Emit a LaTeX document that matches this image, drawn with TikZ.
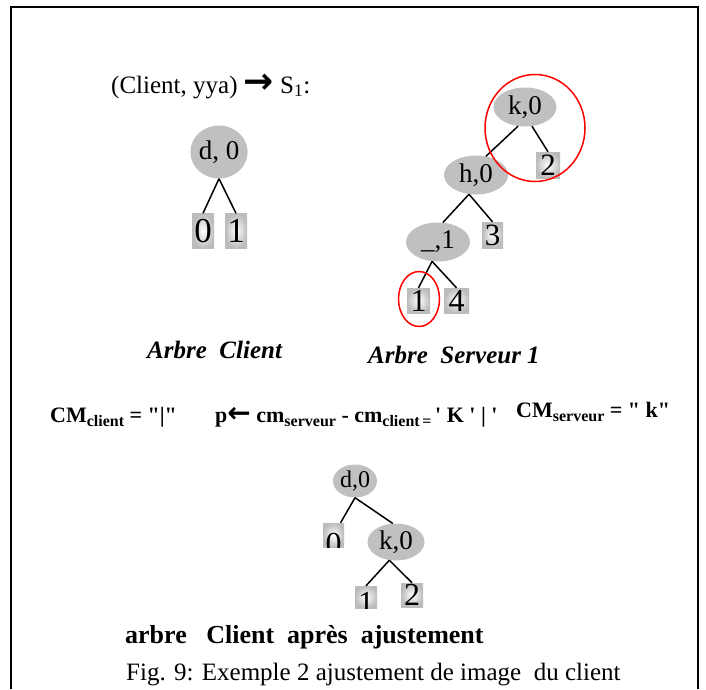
\documentclass[tikz,border=0pt]{standalone}
\usepackage{fontspec}
\setmainfont{Liberation Serif}
\newfontfamily\arrowfont{DejaVu Sans}
\usetikzlibrary{shapes.geometric}
\definecolor{nodegray}{RGB}{192,192,192}
\definecolor{leafgray}{RGB}{188,188,188}
\newcommand\lowtext[1]{\raisebox{-0.22em}{\fontsize{16}{16}\selectfont #1}}
\newcommand\thickarrow[2]{{\arrowfont\bfseries\fontsize{#1}{#1}\selectfont #2}}

\begin{document}
\begin{tikzpicture}[x=1pt,y=-1pt,
  innernode/.style={ellipse, fill=nodegray, inner sep=0pt, font=\fontsize{27}{27}\selectfont},
  leaf/.style={rectangle, inner sep=0pt, inner color=white, outer color=leafgray},
  branch/.style={line width=1.5pt},
  hilite/.style={ellipse, draw=red, line width=1.5pt, inner sep=0pt},
  plain/.style={anchor=base west, inner sep=0pt},
]
\useasboundingbox (0,0) rectangle (706,689);

% outer frame
\draw[line width=2pt] (11,689) -- (11,7) -- (698,7) -- (698,689);

% heading
\node[plain, font=\fontsize{25}{25}\selectfont] (title) at (111,93)
  {(Client, yya)\ \thickarrow{36}{→}\ S\textsubscript{1}:};

% client tree
\node[innernode, minimum width=55, minimum height=53] (cd) at (219,152) {d, 0};
\node[leaf, minimum width=22, minimum height=35, font=\fontsize{35}{35}\selectfont] (c0) at (203,231) {0};
\node[leaf, minimum width=22, minimum height=35, font=\fontsize{35}{35}\selectfont] (c1) at (236,231) {1};
\draw[branch] (cd.south) -- (c0.north);
\draw[branch] (cd.south) -- (c1.north);

% server tree
\node[innernode, minimum width=63, minimum height=39] (k0) at (525,107) {k,0};
\node[leaf, minimum width=24, minimum height=26, font=\fontsize{31}{31}\selectfont] (l2) at (548,165) {2};
\node[innernode, minimum width=64, minimum height=39] (h0) at (476,175) {h,0};
\node[leaf, minimum width=21, minimum height=26, font=\fontsize{31}{31}\selectfont] (l3) at (492.5,235) {3};
\node[innernode, minimum width=64, minimum height=39] (u1) at (438,242) {\_,1};
\node[leaf, minimum width=23, minimum height=25, font=\fontsize{32}{32}\selectfont] (l1) at (418.5,300.5) {1};
\node[leaf, minimum width=25, minimum height=25, font=\fontsize{32}{32}\selectfont] (l4) at (456.5,300.5) {4};
\draw[branch] (k0.250) -- (h0.62);
\draw[branch] (k0.290) -- (l2.north);
\draw[branch] (h0.250) -- (u1.76);
\draw[branch] (h0.250) -- (l3.north);
\draw[branch] (u1.253) -- (l1.north);
\draw[branch] (u1.253) -- (l4.north);
\node[hilite, minimum width=100, minimum height=107] (ringk) at (535,128) {};
\node[hilite, minimum width=41, minimum height=55] (ringone) at (419,299) {};

% tree captions
\node[plain, font=\bfseries\itshape\fontsize{25}{25}\selectfont] (lc) at (147,358) {Arbre\ \ Client};
\node[plain, font=\bfseries\itshape\fontsize{25}{25}\selectfont] (ls) at (368,363) {Arbre\ \ Serveur 1};

% formula line
\node[plain, font=\bfseries\fontsize{22}{22}\selectfont] (cmc) at (50,422)
  {CM\lowtext{client} = \textquotedbl|\textquotedbl};
\node[plain, font=\bfseries\fontsize{22}{22}\selectfont] (pp) at (215,422)
  {p\thickarrow{28}{←} cm\lowtext{serveur} - cm\lowtext{client\,=}\,\textquotesingle\ K\ \textquotesingle\ |\ \textquotesingle};
\node[plain, font=\bfseries\fontsize{22}{22}\selectfont] (cms) at (516,417)
  {CM\lowtext{serveur} = \textquotedbl\ k\textquotedbl};

% adjusted client tree
\node[innernode, minimum width=44, minimum height=33, font=\fontsize{24}{24}\selectfont] (bd) at (355,481) {d,0};
\node[leaf, minimum width=21, minimum height=24,
  path picture={\node[anchor=north, inner sep=0pt, font=\fontsize{32}{32}\selectfont] (b0t)
    at ([yshift=-9pt]path picture bounding box.north) {0};}] (b0) at (333.5,535) {};
\node[innernode, minimum width=57, minimum height=37] (bk) at (396,542) {k,0};
\node[leaf, minimum width=22, minimum height=22,
  path picture={\node[anchor=north, inner sep=0pt, font=\fontsize{32}{32}\selectfont] (b1t)
    at ([yshift=-6pt]path picture bounding box.north) {1};}] (b1) at (366,597) {};
\node[leaf, minimum width=22, minimum height=24, font=\fontsize{32}{32}\selectfont] (b2) at (412,595) {2};
\draw[branch] (bd.south) -- (b0.60);
\draw[branch] (bd.south) -- (bk.100);
\draw[branch] (bk.250) -- (b1.north);
\draw[branch] (bk.250) -- (b2.north);

% bottom captions
\node[plain, font=\bfseries\fontsize{26}{26}\selectfont] (la) at (125,643)
  {arbre\ \ \ Client\ \ après\ \ ajustement};
\node[plain, font=\fontsize{25}{25}\selectfont] (cap) at (126,680)
  {Fig. 9: Exemple 2 ajustement de image\ \ du client};
\end{tikzpicture}
\end{document}
